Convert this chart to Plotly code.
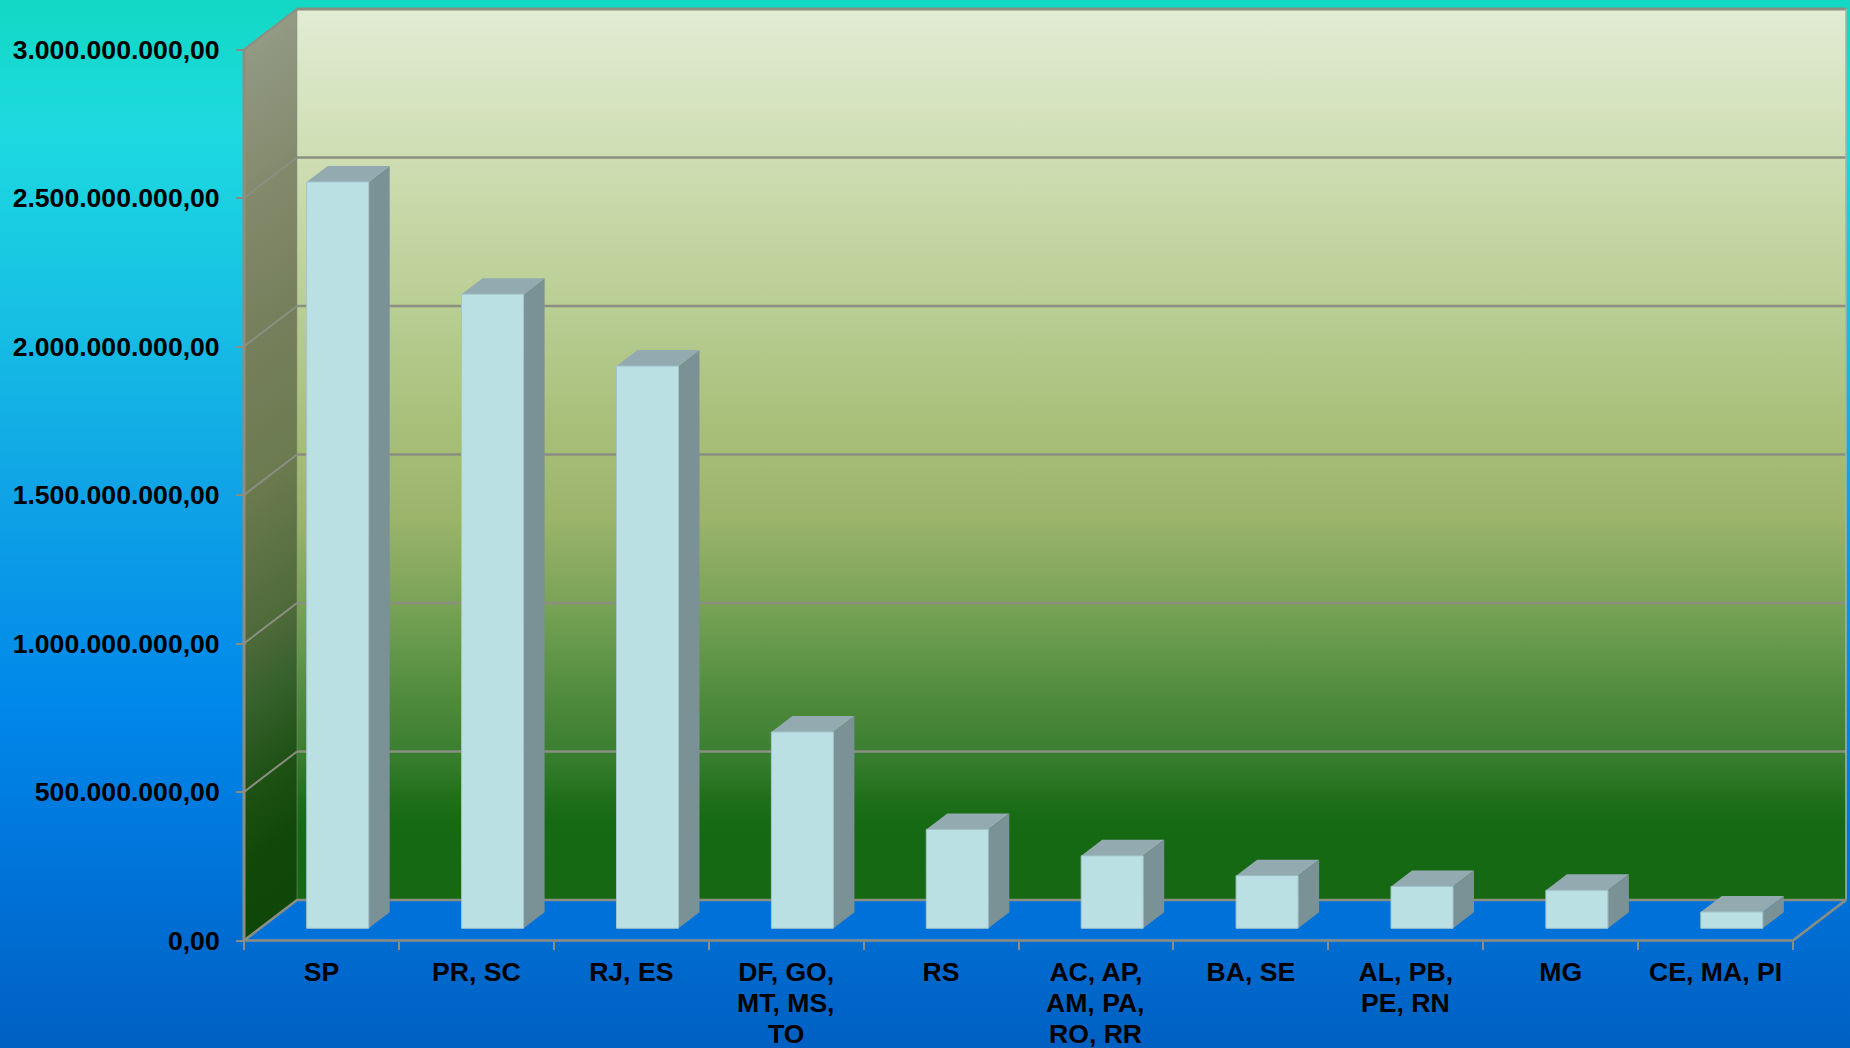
import plotly.graph_objects as go

# ---- data ----
categories = ["SP", "PR, SC", "RJ, ES", "DF, GO,|MT, MS,|TO", "RS",
              "AC, AP,|AM, PA,|RO, RR", "BA, SE", "AL, PB,|PE, RN", "MG", "CE, MA, PI"]
values = [2513e6, 2135e6, 1893e6, 661e6, 333e6, 244e6, 177e6, 141e6, 128e6, 55e6]
y_ticks = [0, 500e6, 1000e6, 1500e6, 2000e6, 2500e6, 3000e6]
y_tick_labels = ["0,00", "500.000.000,00", "1.000.000.000,00", "1.500.000.000,00",
                 "2.000.000.000,00", "2.500.000.000,00", "3.000.000.000,00"]

# ---- page geometry (pixels), turned into axis ranges ----
W, H = 1850, 1048
X0_PX, SLOT_PX = 244.0, 154.9          # x position of the value axis, width of one category
Y0_PX, PX_3E9 = 940.5, 891.0           # y position of zero, pixel height of 3e9
XU = 1 / SLOT_PX                       # one pixel in x units
YU = 3e9 / PX_3E9                      # one pixel in y units
x_range = [-X0_PX * XU, (W - X0_PX) * XU]
y_range = [(Y0_PX - H) * YU, Y0_PX * YU]

DX_BACK, DY_BACK = 53 * XU, 40.5 * YU  # floor depth
BAR_GAP, BAR_W = 62.7 * XU, 62 * XU
BAR_DX, BAR_DY = 21 * XU, 16 * YU
BAR_BASE = 12.2 * YU
X_END = 10.0

GRID = "#8b8f82"
FLOOR = "#0071d9"
FRONT, SIDE, TOP = "#bbe0e4", "#7a9196", "#92aab0"

bg_stops = [(0, "#12d8c4"), (130, "#1ddae0"), (300, "#17c2e3"), (500, "#0fa2e6"),
            (700, "#0088ea"), (900, "#0070d6"), (1048, "#0060c2")]
back_stops = [(10, "#e1ecd3"), (157, "#cfdeb3"), (306, "#b9ce94"), (455, "#a4bc74"),
              (520, "#9bb46a"), (603, "#79a356"), (649, "#64984b"), (700, "#4f8a3c"),
              (751, "#3b7f31"), (800, "#1f6f1a"), (822, "#166a14"), (900, "#166813")]
wall_stops = [(0.0, "#0e4708"), (0.08, "#104809"), (0.1667, "#1f5115"), (0.25, "#34602a"),
              (0.3333, "#4f6a3a"), (0.5, "#6b7b4f"), (0.6667, "#767f5c"),
              (0.8333, "#838a6c"), (1.0, "#939a85")]


def px_y(p):
    return (Y0_PX - p) * YU


def scale_from_px(stops, top, bottom):
    """colour stops given by page pixel -> colorscale running from bottom to top"""
    return sorted(((bottom - p) / (bottom - top), c) for p, c in stops)


traces = []


def poly(xs, ys, color, line_color=None, line_width=0, gradient=None):
    t = dict(x=xs, y=ys, mode="lines", fill="toself", hoverinfo="skip", showlegend=False,
             line=dict(width=line_width, color=line_color or color))
    if gradient:
        t["fillgradient"] = gradient
    else:
        t["fillcolor"] = color
    traces.append(go.Scatter(**t))


def line(xs, ys, width=2, color=GRID):
    traces.append(go.Scatter(x=xs, y=ys, mode="lines", hoverinfo="skip", showlegend=False,
                             line=dict(width=width, color=color)))


# page background
poly([x_range[0], x_range[1], x_range[1], x_range[0], x_range[0]],
     [y_range[0], y_range[0], y_range[1], y_range[1], y_range[0]], "#000", gradient=dict(
         type="vertical", start=y_range[0], stop=y_range[1],
         colorscale=[[round(p, 4), c] for p, c in scale_from_px(bg_stops, 0, H)]))

# floor
poly([0, X_END, X_END + DX_BACK, DX_BACK, 0], [0, 0, DY_BACK, DY_BACK, 0], FLOOR)

# back wall
TOP_V = 3e9 + DY_BACK
poly([DX_BACK, X_END + DX_BACK, X_END + DX_BACK, DX_BACK, DX_BACK],
     [DY_BACK, DY_BACK, TOP_V, TOP_V, DY_BACK], "#000", gradient=dict(
         type="vertical", start=DY_BACK, stop=TOP_V,
         colorscale=[[round(p, 4), c] for p, c in scale_from_px(back_stops, 10, 900)]))

# left wall: narrow slices whose gradient follows the receding plane
N = 18
for k in range(N):
    f0, f1 = k / N, min(1, (k + 1.4) / N)
    fm = (k + 0.5) / N
    x0, x1 = f0 * DX_BACK, f1 * DX_BACK
    s0, s1 = f0 * DY_BACK, f1 * DY_BACK
    sm = fm * DY_BACK
    poly([x0, x1, x1, x0, x0], [s0, s1, 3e9 + s1, 3e9 + s0, s0], "#000", gradient=dict(
        type="vertical", start=sm, stop=3e9 + sm,
        colorscale=[[p, c] for p, c in wall_stops]))

# grid lines
for v in y_ticks[1:-1]:
    line([0, DX_BACK], [v, v + DY_BACK], 2)
    line([DX_BACK, X_END + DX_BACK], [v + DY_BACK, v + DY_BACK], 2.7)
line([0, DX_BACK], [3e9, TOP_V], 2)
line([DX_BACK, X_END + DX_BACK], [TOP_V, TOP_V], 3)
line([X_END + DX_BACK, X_END + DX_BACK], [TOP_V, DY_BACK], 1.5, "#a9b59c")
line([DX_BACK, DX_BACK], [DY_BACK, TOP_V], 1.5, "rgba(139,143,130,0.35)")
line([0, 0], [0, 3e9], 3)
line([0, DX_BACK, X_END + DX_BACK, X_END, 0], [0, DY_BACK, DY_BACK, 0, 0], 2.7)

# bars
for i, v in enumerate(values):
    xl = i + BAR_GAP
    xr = xl + BAR_W
    b, t = BAR_BASE, BAR_BASE + v
    poly([xr, xr + BAR_DX, xr + BAR_DX, xr, xr], [b, b + BAR_DY, t + BAR_DY, t, b], SIDE)
    poly([xl, xr, xr + BAR_DX, xl + BAR_DX, xl], [t, t, t + BAR_DY, t + BAR_DY, t], TOP)
    poly([xl, xr, xr, xl, xl], [b, b, t, t, b], FRONT, line_color="#a4c4cc", line_width=1)

tick_pos = [i + 0.5 for i in range(len(categories))]
first_lines = [c.split("|")[0] for c in categories]
FONT = dict(family="Liberation Sans", size=26.6, color="#000000", weight="bold")

annotations = []
LINE_PX = 30.7
for pos, c in zip(tick_pos, categories):
    for n, txt in enumerate(c.split("|")[1:], start=1):
        annotations.append(dict(x=pos, y=px_y(972.5 + n * LINE_PX), xref="x", yref="y",
                                text=txt, showarrow=False, font=FONT,
                                xanchor="center", yanchor="middle"))

fig = go.Figure(traces)
fig.update_layout(
    width=W, height=H, autosize=False,
    margin=dict(l=0, r=0, t=0, b=0, pad=0),
    paper_bgcolor="#0060c2", plot_bgcolor="rgba(0,0,0,0)",
    showlegend=False, annotations=annotations,
    xaxis=dict(domain=[0, 1], range=x_range, type="linear", fixedrange=True,
               anchor="free", position=(H - Y0_PX) / H,
               showgrid=False, zeroline=False, showline=False, automargin=False,
               tickmode="array", tickvals=tick_pos, ticktext=first_lines,
               ticks="", ticklabelstandoff=13, tickfont=FONT,
               tickangle=0,
               minor=dict(tickmode="array", tickvals=list(range(11)), ticks="outside",
                          ticklen=8, tickwidth=2, tickcolor=GRID, showgrid=False)),
    yaxis=dict(domain=[0, 1], range=y_range, type="linear", fixedrange=True,
               anchor="free", position=X0_PX / W,
               showgrid=False, zeroline=False, showline=False, automargin=False,
               tickmode="array", tickvals=y_ticks, ticktext=y_tick_labels,
               ticks="outside", ticklen=8, tickwidth=2, tickcolor=GRID,
               ticklabelstandoff=11, tickfont=FONT),
)
fig.write_html("out.html", config=dict(displayModeBar=False),
               post_script="document.body.style.margin='0';document.body.style.overflow='hidden';")
